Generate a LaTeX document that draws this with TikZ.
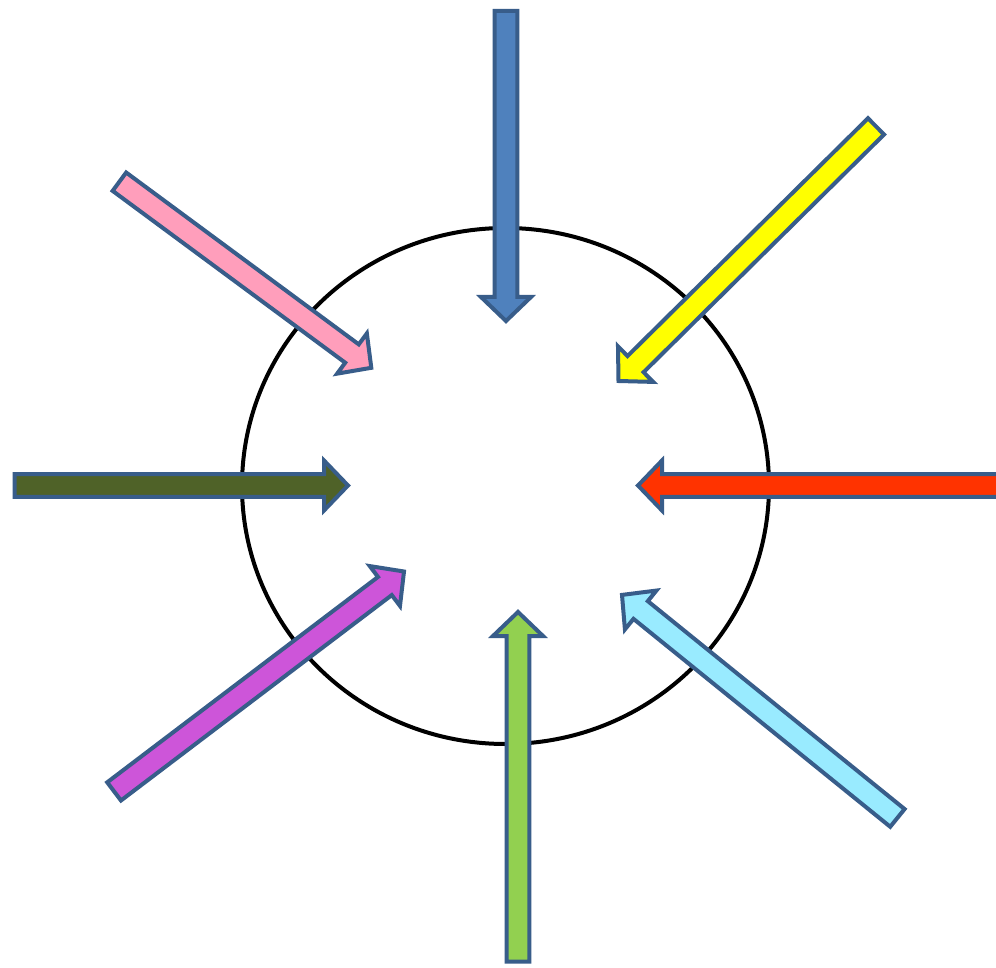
\documentclass[tikz,border=0pt]{standalone}
\usetikzlibrary{calc}
\definecolor{edgeblue}{HTML}{385D8A}
\definecolor{cblue}{HTML}{4F81BD}
\definecolor{cyellow}{HTML}{FFFF00}
\definecolor{cpink}{HTML}{FF9EBB}
\definecolor{cdkgreen}{HTML}{4F6228}
\definecolor{cred}{HTML}{FF3300}
\definecolor{cmagenta}{HTML}{CD55D9}
\definecolor{cltgreen}{HTML}{92D050}
\definecolor{ccyan}{HTML}{99EBFF}
\tikzset{
  blockarrow/.style={draw=edgeblue, line width=4pt, line join=miter},
  ring/.style={draw=black, line width=4pt},
}
\newcommand\sw{11.4pt}
\newcommand\hw{25pt}
\newcommand\hl{24pt}
% #1 fill colour, #2 tail coordinate name, #3 tip coordinate name
\newcommand\blockarr[3]{%
  \coordinate (H-#2) at ($(#3)!\hl!(#2)$);
  \filldraw[blockarrow, fill=#1]
    ($(#2)!\sw!90:(#3)$) -- ($(H-#2)!\sw!-90:(#2)$) -- ($(H-#2)!\hw!-90:(#2)$)
    -- (#3) -- ($(H-#2)!\hw!90:(#2)$) -- ($(H-#2)!\sw!90:(#2)$)
    -- ($(#2)!\sw!-90:(#3)$) -- cycle;
}
\begin{document}
\begin{tikzpicture}[x=1pt,y=-1pt]
\useasboundingbox[fill=white] (0,0) rectangle (996,968);
\coordinate (C) at (505.5,486);
\draw[ring] (C) ellipse [x radius=263.5, y radius=258];
% tails and tips
\coordinate (blueT) at (506,11);      \coordinate (blueP) at (506,321);
\coordinate (yelT) at (876,126.4);    \coordinate (yelP) at (618.5,381);
\coordinate (pinkT) at (119.4,181.7); \coordinate (pinkP) at (371.3,367.8);
\coordinate (dgT) at (14.5,485.5);    \coordinate (dgP) at (348,485.5);
\coordinate (redT) at (1005,485.5);   \coordinate (redP) at (638,485.5);
\coordinate (magT) at (114.1,791.4);  \coordinate (magP) at (404,571.5);
\coordinate (lgT) at (518,961.5);     \coordinate (lgP) at (518,612);
\coordinate (cyT) at (897.4,817.9);   \coordinate (cyP) at (622,594.9);
\blockarr{cblue}{blueT}{blueP}
\blockarr{cyellow}{yelT}{yelP}
\blockarr{cpink}{pinkT}{pinkP}
\blockarr{cdkgreen}{dgT}{dgP}
\blockarr{cred}{redT}{redP}
\blockarr{cmagenta}{magT}{magP}
\blockarr{cltgreen}{lgT}{lgP}
\blockarr{ccyan}{cyT}{cyP}
\end{tikzpicture}
\end{document}
